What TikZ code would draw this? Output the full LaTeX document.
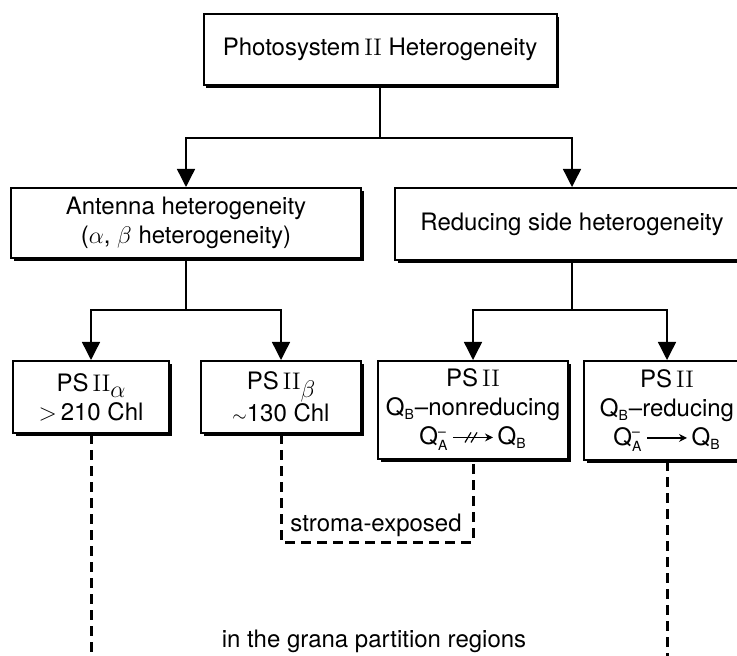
\documentclass[tikz,border=0pt]{standalone}
\usepackage{fontspec}
\setsansfont{TeX Gyre Heros}
\usetikzlibrary{arrows.meta}
\usetikzlibrary{shadows}
\newcommand{\romII}{{\rmfamily II}}
\newcommand{\QAminus}{Q$^{\hbox{\scriptsize--}}_{\hbox{\scriptsize A}}$}
\newcommand{\QBsub}{Q$_{\hbox{\scriptsize B}}$}
\newcommand{\passarrow}{\tikz[baseline=-0.6ex]{\draw[line width=0.6pt,-{Stealth[length=4pt,width=4pt]}] (0pt,0pt) -- (20pt,0pt);}}
\newcommand{\blockarrow}{\tikz[baseline=-0.6ex]{\draw[line width=0.6pt,-{Stealth[length=4pt,width=4pt]}] (0pt,0pt) -- (20pt,0pt);
  \draw[line width=0.6pt] (6pt,-2.5pt) -- (9pt,2.5pt); \draw[line width=0.6pt] (9pt,-2.5pt) -- (12pt,2.5pt);}}

\begin{document}
\begin{tikzpicture}[x=0.5pt,y=-0.5pt,font=\sffamily\fontsize{12}{14.5}\selectfont,
    box node/.style={draw,line width=1pt,fill=white,align=center,inner sep=2pt,
      drop shadow={shadow xshift=1.4pt,shadow yshift=-1.4pt,fill=black,opacity=1}},
    link/.style={line width=0.7pt},
    arrow line/.style={line width=0.7pt,-{Triangle[length=9pt,width=9pt]}},
    region line/.style={line width=1.5pt,dash pattern=on 5pt off 3pt}]
  \useasboundingbox (0,0) rectangle (737,656);
  % boxes
  \node[box node,minimum width=176.5pt,minimum height=35.5pt] (top) at (380,49.5) {Photosystem\,\romII\ Heterogeneity};
  \node[box node,minimum width=175pt,minimum height=35pt] (antenna) at (186,223) {Antenna heterogeneity\\($\alpha$, $\beta$ heterogeneity)};
  \node[box node,minimum width=177pt,minimum height=36pt] (reducing) at (572,224) {Reducing side heterogeneity};
  \node[box node,minimum width=78pt,minimum height=36pt] (psalpha) at (91,397) {PS\,\romII\raisebox{-0.5ex}{$\alpha$}\\${>}$\,210 Chl};
  \node[box node,minimum width=80pt,minimum height=36pt] (psbeta) at (281,397) {PS\,\romII\raisebox{-0.6ex}{$\beta$}\\{\small$\sim$}130 Chl};
  \node[box node,minimum width=95pt,minimum height=49pt] (nonred) at (473,410) {PS\,\romII\\\QBsub--nonreducing\\\QAminus\,\blockarrow\,\QBsub};
  \node[box node,minimum width=83pt,minimum height=49.5pt] (red) at (667,410.5) {PS\,\romII\\\QBsub--reducing\\\QAminus\,\passarrow\,\QBsub};
  % labels
  \node (stroma) at (376,525) {stroma-exposed};
  \node (grana) at (374,641) {in the grana partition regions};
  % forks
  \coordinate (fork1) at (380,138);
  \coordinate (fork2) at (186,310);
  \coordinate (fork3) at (572,310);
  \draw[link] (top.south) -- (fork1);
  \draw[arrow line] (fork1) -| (antenna.north);
  \draw[arrow line] (fork1) -| (reducing.north);
  \draw[link] (antenna.south) -- (fork2);
  \draw[arrow line] (fork2) -| (psalpha.north);
  \draw[arrow line] (fork2) -| (psbeta.north);
  \draw[link] (reducing.south) -- (fork3);
  \draw[arrow line] (fork3) -| (nonred.north);
  \draw[arrow line] (fork3) -| (red.north);
  % dashed regions
  \coordinate (strcorner) at (473,542);
  \coordinate (lowalpha) at (91,670);
  \coordinate (lowred) at (667,670);
  \draw[region line] (psbeta.south) |- (strcorner) -- (nonred.south);
  \draw[region line] (psalpha.south) -- (lowalpha);
  \draw[region line] (red.south) -- (lowred);
\end{tikzpicture}
\end{document}
